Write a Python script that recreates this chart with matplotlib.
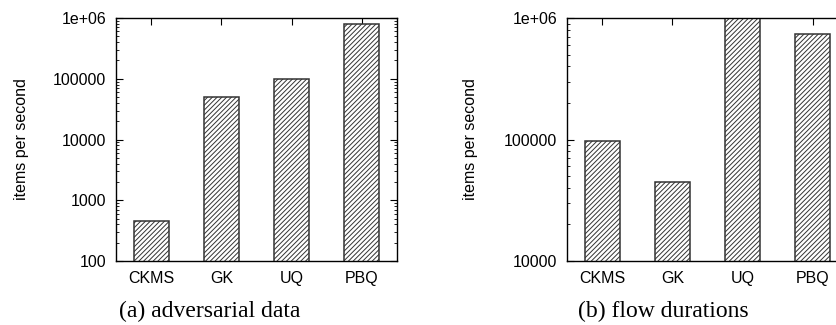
import matplotlib
matplotlib.use("Agg")
import matplotlib.pyplot as plt
from matplotlib.ticker import FixedLocator, LogLocator, NullFormatter

# === Data ===
methods = ["CKMS", "GK", "UQ", "PBQ"]
adversarial_rate = [455, 50500, 97500, 787000]
flow_rate = [98000, 45000, 1000000, 738000]

left_ticks = [100, 1000, 10000, 100000, 1000000]
left_labels = ["100", "1000", "10000", "100000", "1e+06"]
right_ticks = [10000, 100000, 1000000]
right_labels = ["10000", "100000", "1e+06"]

captions = ["(a) adversarial data", "(b) flow durations"]

plt.rcParams["font.family"] = ["Liberation Sans", "DejaVu Sans"]
plt.rcParams["hatch.color"] = "#8c8c8c"
plt.rcParams["hatch.linewidth"] = 0.7

W, H = 837, 325
fig = plt.figure(figsize=(W / 100, H / 100), dpi=100)


def panel(x0, vals, ylim, ticks, labels, caption, cap_x):
  ax = fig.add_axes([x0 / W, 1 - 261 / H, 281 / W, (261 - 18) / H])
  xs = list(range(len(methods)))
  ax.bar(xs, vals, width=0.5, facecolor="white",
         edgecolor="#333333", linewidth=1.1, hatch="///////", zorder=2)
  ax.set_yscale("log")
  ax.set_ylim(*ylim)
  ax.set_xlim(-0.5, 3.5)
  ax.set_xticks(xs)
  ax.set_xticklabels(methods, fontsize=11.5)
  ax.yaxis.set_major_locator(FixedLocator(ticks))
  ax.set_yticklabels(labels, fontsize=11.5)
  ax.yaxis.set_minor_locator(LogLocator(base=10, subs=range(2, 10)))
  ax.yaxis.set_minor_formatter(NullFormatter())
  ax.tick_params(which="both", direction="in", top=True, right=True,
                 bottom=False)
  ax.tick_params(which="major", length=5, width=0.8, pad=7)
  ax.tick_params(which="minor", length=2.5, width=0.6)
  for s in ax.spines.values():
    s.set_linewidth(1.0)
  ax.set_ylabel("items per second", fontsize=11.5)
  fig.text(cap_x / W, 1 - 311 / H, caption, ha="center", va="center",
           fontsize=17, family=["Liberation Serif", "DejaVu Serif"])
  return ax


ax1 = panel(116, adversarial_rate, (100, 1e6), left_ticks, left_labels,
            captions[0], 210)
ax1.yaxis.set_label_coords(-0.31, 0.5)
ax2 = panel(567, flow_rate, (1e4, 1e6), right_ticks, right_labels,
            captions[1], 663)
ax2.yaxis.set_label_coords(-0.315, 0.5)

fig.savefig("out.png", dpi=100)
